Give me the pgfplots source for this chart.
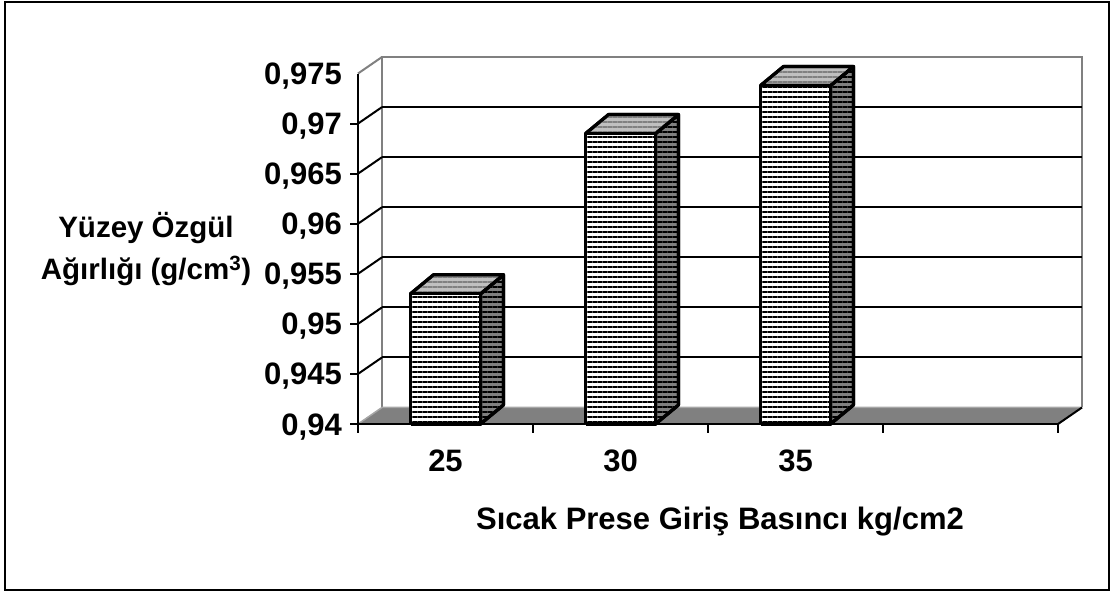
\documentclass[border=0pt]{standalone}
\usepackage{fontspec}
\setmainfont{Liberation Sans}
\usepackage{pgfplots}
\pgfplotsset{compat=1.18}
\usetikzlibrary{patterns.meta}
\definecolor{midgray}{HTML}{808080}
\definecolor{lightgray}{HTML}{C0C0C0}
\newcommand\lblfont{\bfseries\fontsize{31}{37}\selectfont}
\newcommand\ylblfont{\bfseries\fontsize{29.5}{42}\selectfont}
\begin{document}
\begin{tikzpicture}[x=1pt,y=1pt]
\useasboundingbox (0,0) rectangle (1110,592);
\draw[line width=2pt] (5,2) rectangle (1109,590);
\begin{axis}[
  at={(358pt,168pt)}, anchor=south west,
  scale only axis, width=724pt, height=367pt,
  xmin=0, xmax=4.137143, ymin=0.94, ymax=0.97665,
  clip=false,
  axis line style={draw=none},
  tick style={draw=none}, major tick length=0pt,
  xtick={0.5,1.5,2.5}, xticklabels={25,30,35},
  ytick={0.94,0.945,0.95,0.955,0.96,0.965,0.97,0.975},
  scaled y ticks=false,
  ticklabel style={font=\lblfont},
  xticklabel style={anchor=base, inner sep=0pt, yshift=-47pt},
  yticklabel style={anchor=base east, inner sep=0pt, xshift=-16pt, yshift=-11pt},
  /pgf/number format/use comma,
  /pgf/number format/precision=3,
  /pgf/number format/assume math mode=true,
  xlabel={Sıcak Prese Giriş Basıncı kg/cm2},
  xlabel style={at={(axis cs:2.06857,0.929415)}, anchor=base, inner sep=0pt, font=\lblfont},
  ylabel={Yüzey Özgül\\Ağırlığı (g/cm\textsuperscript{3})},
  ylabel style={rotate=-90, align=center, anchor=north, inner sep=0pt,
                at={(axis cs:-1.21143,0.96112)}, font=\ylblfont},
]
% back wall
\draw[midgray, line width=2pt] (axis cs:0.137143,0.94165) -- (axis cs:0.137143,0.97665)
   -- (axis cs:4.137143,0.97665) -- (axis cs:4.137143,0.94165);
% back-wall gridlines
\pgfplotsinvokeforeach{0.94665,0.95165,0.95665,0.96165,0.96665,0.97165}{
  \draw[black, line width=2pt] (axis cs:0.137143,#1) -- (axis cs:4.137143,#1);
}
% left-wall diagonals
\pgfplotsinvokeforeach{0.945,0.95,0.955,0.96,0.965,0.97}{
  \draw[black, line width=2pt] (axis cs:0,#1) -- ++(24pt,16.5pt);
}
\draw[midgray, line width=2pt] (axis cs:0,0.975) -- (axis cs:0.137143,0.97665);
% floor
\addplot[fill=midgray, draw=none] coordinates {(0,0.94) (4,0.94) (4.137143,0.94165) (0.137143,0.94165) (0,0.94)};
\draw[midgray!70, line width=1.5pt] (axis cs:0,0.94) -- (axis cs:0.137143,0.94165) -- (axis cs:4.137143,0.94165);
\draw[black, line width=2pt] (axis cs:4,0.94) -- (axis cs:4.137143,0.94165);
% front axes
\draw[black, line width=2pt] (axis cs:0,0.94) -- (axis cs:0,0.975);
\draw[black, line width=2.5pt] (axis cs:0,0.94) -- (axis cs:4,0.94);
\pgfplotsinvokeforeach{0.94,0.945,0.95,0.955,0.96,0.965,0.97}{
  \draw[black, line width=2pt] (axis cs:0,#1) -- ([xshift=-8pt]axis cs:0,#1);
}
\pgfplotsinvokeforeach{0,1,2,3,4}{
  \draw[black, line width=2pt] (axis cs:#1,0.94) -- ([yshift=-9pt]axis cs:#1,0.94);
}
% bars
\pgfplotsset{
  frontface/.style={draw=black, line width=3.2pt, line join=round,
     preaction={fill=white}, pattern={Lines[angle=0,distance=5pt,line width=2.2pt]}, pattern color=black},
  sideface/.style={draw=black, line width=3.2pt, line join=round,
     preaction={fill=midgray}, pattern={Lines[angle=0,distance=5pt,line width=2.2pt]}, pattern color=black},
  topface/.style={draw=black, line width=3.2pt, line join=round,
     preaction={fill=lightgray}, pattern={Lines[angle=0,distance=5pt,line width=2.2pt]}, pattern color=midgray},
}
% bar 25 (0.953)
\addplot[sideface] coordinates {(0.7,0.94) (0.8314,0.9419) (0.8314,0.9549) (0.7,0.953) (0.7,0.94)};
\addplot[topface] coordinates {(0.3,0.953) (0.7,0.953) (0.8314,0.9549) (0.4314,0.9549) (0.3,0.953)};
\addplot[frontface] coordinates {(0.3,0.94) (0.7,0.94) (0.7,0.953) (0.3,0.953) (0.3,0.94)};
% bar 30 (0.969)
\addplot[sideface] coordinates {(1.7,0.94) (1.8314,0.9419) (1.8314,0.9709) (1.7,0.969) (1.7,0.94)};
\addplot[topface] coordinates {(1.3,0.969) (1.7,0.969) (1.8314,0.9709) (1.4314,0.9709) (1.3,0.969)};
\addplot[frontface] coordinates {(1.3,0.94) (1.7,0.94) (1.7,0.969) (1.3,0.969) (1.3,0.94)};
% bar 35 (0.9738)
\addplot[sideface] coordinates {(2.7,0.94) (2.8314,0.9419) (2.8314,0.9757) (2.7,0.9738) (2.7,0.94)};
\addplot[topface] coordinates {(2.3,0.9738) (2.7,0.9738) (2.8314,0.9757) (2.4314,0.9757) (2.3,0.9738)};
\addplot[frontface] coordinates {(2.3,0.94) (2.7,0.94) (2.7,0.9738) (2.3,0.9738) (2.3,0.94)};
\end{axis}
\end{tikzpicture}
\end{document}
